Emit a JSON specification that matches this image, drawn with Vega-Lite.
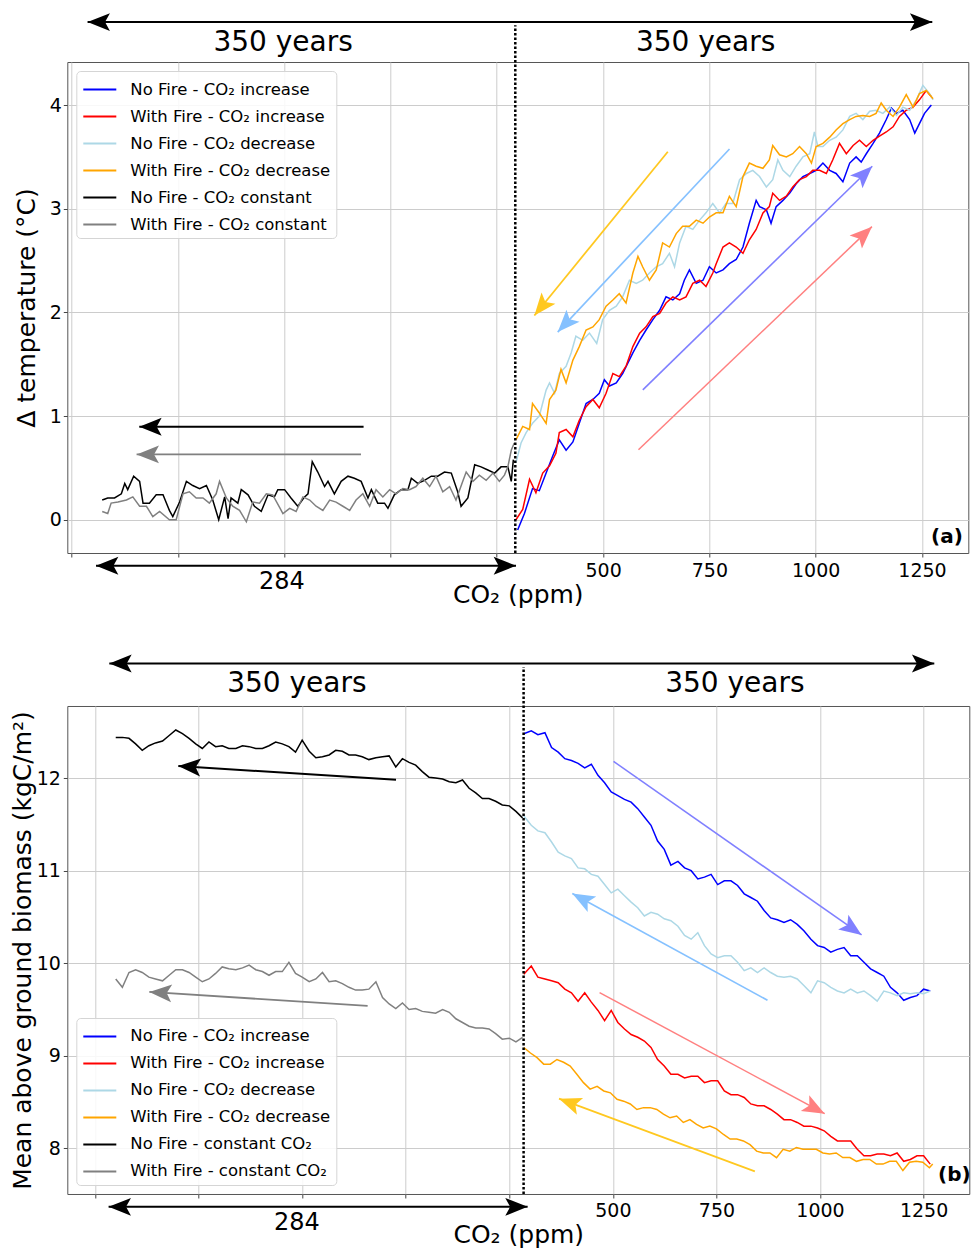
{
"$schema": "https://vega.github.io/schema/vega-lite/v6.json",
"padding": {"left": 9.3, "top": 12, "right": 0, "bottom": 0},
"config": {
 "font": "DejaVu Sans",
 "view": {"stroke": "#555555", "strokeWidth": 1},
 "axis": {"domain": false, "grid": true, "gridColor": "#cccccc", "gridWidth": 1, "tickColor": "#444444", "tickSize": 4, "labelFont": "DejaVu Sans", "labelFontSize": 19, "labelColor": "#000000", "titleFont": "DejaVu Sans", "titleFontSize": 25, "titleFontWeight": "normal", "titleColor": "#000000", "labelFlush": false, "labelOverlap": false, "format": "d"},
 "legend": {"labelFont": "DejaVu Sans"}
},
"datasets": {
 "a": [
 {"s":"b","x":299,"y":-0.1},{"s":"b","x":315,"y":0.06},{"s":"b","x":334,"y":0.3},{"s":"b","x":350,"y":0.28},{"s":"b","x":366,"y":0.45},{"s":"b","x":382,"y":0.62},{"s":"b","x":397,"y":0.77},{"s":"b","x":413,"y":0.67},{"s":"b","x":429,"y":0.75},{"s":"b","x":444,"y":0.93},{"s":"b","x":460,"y":1.12},{"s":"b","x":476,"y":1.16},{"s":"b","x":491,"y":1.22},{"s":"b","x":503,"y":1.35},{"s":"b","x":515,"y":1.29},{"s":"b","x":531,"y":1.32},{"s":"b","x":546,"y":1.41},{"s":"b","x":570,"y":1.61},{"s":"b","x":586,"y":1.73},{"s":"b","x":601,"y":1.83},{"s":"b","x":617,"y":1.93},{"s":"b","x":633,"y":2.02},{"s":"b","x":648,"y":2.15},{"s":"b","x":664,"y":2.12},{"s":"b","x":680,"y":2.18},{"s":"b","x":691,"y":2.31},{"s":"b","x":703,"y":2.41},{"s":"b","x":719,"y":2.28},{"s":"b","x":735,"y":2.31},{"s":"b","x":750,"y":2.44},{"s":"b","x":766,"y":2.38},{"s":"b","x":782,"y":2.41},{"s":"b","x":797,"y":2.47},{"s":"b","x":813,"y":2.51},{"s":"b","x":829,"y":2.63},{"s":"b","x":844,"y":2.86},{"s":"b","x":860,"y":3.08},{"s":"b","x":868,"y":3.02},{"s":"b","x":884,"y":2.99},{"s":"b","x":895,"y":2.86},{"s":"b","x":907,"y":3.02},{"s":"b","x":923,"y":3.08},{"s":"b","x":939,"y":3.15},{"s":"b","x":954,"y":3.24},{"s":"b","x":970,"y":3.31},{"s":"b","x":986,"y":3.34},{"s":"b","x":1001,"y":3.37},{"s":"b","x":1017,"y":3.44},{"s":"b","x":1033,"y":3.37},{"s":"b","x":1048,"y":3.34},{"s":"b","x":1064,"y":3.26},{"s":"b","x":1080,"y":3.44},{"s":"b","x":1095,"y":3.5},{"s":"b","x":1107,"y":3.45},{"s":"b","x":1119,"y":3.53},{"s":"b","x":1135,"y":3.63},{"s":"b","x":1150,"y":3.73},{"s":"b","x":1166,"y":3.86},{"s":"b","x":1178,"y":3.97},{"s":"b","x":1190,"y":3.92},{"s":"b","x":1205,"y":3.95},{"s":"b","x":1221,"y":3.86},{"s":"b","x":1233,"y":3.73},{"s":"b","x":1244,"y":3.82},{"s":"b","x":1256,"y":3.92},{"s":"b","x":1272,"y":4.0},
 {"s":"r","x":295,"y":0},{"s":"r","x":311,"y":0.1},{"s":"r","x":327,"y":0.39},{"s":"r","x":342,"y":0.26},{"s":"r","x":358,"y":0.45},{"s":"r","x":374,"y":0.52},{"s":"r","x":389,"y":0.64},{"s":"r","x":397,"y":0.84},{"s":"r","x":413,"y":0.87},{"s":"r","x":429,"y":0.8},{"s":"r","x":444,"y":0.96},{"s":"r","x":460,"y":1.09},{"s":"r","x":476,"y":1.16},{"s":"r","x":491,"y":1.08},{"s":"r","x":507,"y":1.22},{"s":"r","x":523,"y":1.41},{"s":"r","x":538,"y":1.38},{"s":"r","x":554,"y":1.48},{"s":"r","x":570,"y":1.67},{"s":"r","x":586,"y":1.8},{"s":"r","x":601,"y":1.86},{"s":"r","x":617,"y":1.96},{"s":"r","x":633,"y":1.99},{"s":"r","x":648,"y":2.09},{"s":"r","x":664,"y":2.15},{"s":"r","x":680,"y":2.12},{"s":"r","x":695,"y":2.15},{"s":"r","x":711,"y":2.28},{"s":"r","x":727,"y":2.31},{"s":"r","x":742,"y":2.25},{"s":"r","x":758,"y":2.38},{"s":"r","x":766,"y":2.47},{"s":"r","x":782,"y":2.63},{"s":"r","x":797,"y":2.67},{"s":"r","x":813,"y":2.63},{"s":"r","x":829,"y":2.57},{"s":"r","x":844,"y":2.7},{"s":"r","x":860,"y":2.8},{"s":"r","x":876,"y":2.96},{"s":"r","x":891,"y":3.02},{"s":"r","x":899,"y":3.15},{"s":"r","x":915,"y":3.08},{"s":"r","x":931,"y":3.12},{"s":"r","x":946,"y":3.21},{"s":"r","x":962,"y":3.28},{"s":"r","x":978,"y":3.31},{"s":"r","x":993,"y":3.37},{"s":"r","x":1009,"y":3.37},{"s":"r","x":1025,"y":3.34},{"s":"r","x":1040,"y":3.47},{"s":"r","x":1056,"y":3.63},{"s":"r","x":1072,"y":3.53},{"s":"r","x":1088,"y":3.61},{"s":"r","x":1103,"y":3.66},{"s":"r","x":1119,"y":3.6},{"s":"r","x":1135,"y":3.66},{"s":"r","x":1150,"y":3.7},{"s":"r","x":1166,"y":3.74},{"s":"r","x":1182,"y":3.79},{"s":"r","x":1197,"y":3.89},{"s":"r","x":1213,"y":3.95},{"s":"r","x":1229,"y":3.98},{"s":"r","x":1244,"y":4.05},{"s":"r","x":1260,"y":4.14},{"s":"r","x":1272,"y":4.08},
 {"s":"l","x":295,"y":0.55},{"s":"l","x":307,"y":0.74},{"s":"l","x":319,"y":0.84},{"s":"l","x":334,"y":0.93},{"s":"l","x":350,"y":1.0},{"s":"l","x":366,"y":1.25},{"s":"l","x":374,"y":1.32},{"s":"l","x":386,"y":1.22},{"s":"l","x":397,"y":1.41},{"s":"l","x":413,"y":1.48},{"s":"l","x":425,"y":1.61},{"s":"l","x":436,"y":1.77},{"s":"l","x":452,"y":1.73},{"s":"l","x":468,"y":1.8},{"s":"l","x":485,"y":1.7},{"s":"l","x":499,"y":1.93},{"s":"l","x":515,"y":2.02},{"s":"l","x":531,"y":2.06},{"s":"l","x":546,"y":2.15},{"s":"l","x":562,"y":2.31},{"s":"l","x":578,"y":2.28},{"s":"l","x":593,"y":2.31},{"s":"l","x":609,"y":2.38},{"s":"l","x":625,"y":2.44},{"s":"l","x":640,"y":2.47},{"s":"l","x":656,"y":2.57},{"s":"l","x":668,"y":2.44},{"s":"l","x":680,"y":2.67},{"s":"l","x":695,"y":2.83},{"s":"l","x":711,"y":2.8},{"s":"l","x":727,"y":2.89},{"s":"l","x":742,"y":2.96},{"s":"l","x":758,"y":3.05},{"s":"l","x":774,"y":2.96},{"s":"l","x":789,"y":3.05},{"s":"l","x":805,"y":3.05},{"s":"l","x":821,"y":3.28},{"s":"l","x":837,"y":3.34},{"s":"l","x":852,"y":3.37},{"s":"l","x":868,"y":3.31},{"s":"l","x":884,"y":3.21},{"s":"l","x":899,"y":3.28},{"s":"l","x":911,"y":3.47},{"s":"l","x":923,"y":3.37},{"s":"l","x":939,"y":3.31},{"s":"l","x":954,"y":3.41},{"s":"l","x":970,"y":3.5},{"s":"l","x":986,"y":3.53},{"s":"l","x":997,"y":3.74},{"s":"l","x":1005,"y":3.6},{"s":"l","x":1017,"y":3.6},{"s":"l","x":1033,"y":3.66},{"s":"l","x":1048,"y":3.69},{"s":"l","x":1064,"y":3.76},{"s":"l","x":1080,"y":3.89},{"s":"l","x":1095,"y":3.92},{"s":"l","x":1111,"y":3.86},{"s":"l","x":1127,"y":3.94},{"s":"l","x":1142,"y":3.95},{"s":"l","x":1158,"y":3.92},{"s":"l","x":1174,"y":3.98},{"s":"l","x":1190,"y":3.9},{"s":"l","x":1205,"y":3.98},{"s":"l","x":1221,"y":3.95},{"s":"l","x":1237,"y":4.05},{"s":"l","x":1252,"y":4.19},{"s":"l","x":1268,"y":4.11},{"s":"l","x":1276,"y":4.05},
 {"s":"o","x":295,"y":0.77},{"s":"o","x":311,"y":0.9},{"s":"o","x":327,"y":0.87},{"s":"o","x":334,"y":1.12},{"s":"o","x":350,"y":1.03},{"s":"o","x":366,"y":0.93},{"s":"o","x":374,"y":1.16},{"s":"o","x":389,"y":1.25},{"s":"o","x":401,"y":1.45},{"s":"o","x":413,"y":1.32},{"s":"o","x":429,"y":1.54},{"s":"o","x":444,"y":1.67},{"s":"o","x":460,"y":1.83},{"s":"o","x":476,"y":1.86},{"s":"o","x":491,"y":1.93},{"s":"o","x":507,"y":2.06},{"s":"o","x":523,"y":2.12},{"s":"o","x":538,"y":2.18},{"s":"o","x":554,"y":2.09},{"s":"o","x":570,"y":2.38},{"s":"o","x":582,"y":2.54},{"s":"o","x":593,"y":2.44},{"s":"o","x":609,"y":2.31},{"s":"o","x":625,"y":2.41},{"s":"o","x":640,"y":2.67},{"s":"o","x":656,"y":2.63},{"s":"o","x":672,"y":2.76},{"s":"o","x":687,"y":2.83},{"s":"o","x":703,"y":2.83},{"s":"o","x":719,"y":2.89},{"s":"o","x":735,"y":2.86},{"s":"o","x":750,"y":2.92},{"s":"o","x":766,"y":2.96},{"s":"o","x":782,"y":2.96},{"s":"o","x":797,"y":3.12},{"s":"o","x":813,"y":3.02},{"s":"o","x":829,"y":3.31},{"s":"o","x":844,"y":3.44},{"s":"o","x":860,"y":3.41},{"s":"o","x":876,"y":3.39},{"s":"o","x":891,"y":3.47},{"s":"o","x":899,"y":3.61},{"s":"o","x":915,"y":3.52},{"s":"o","x":931,"y":3.5},{"s":"o","x":946,"y":3.53},{"s":"o","x":962,"y":3.6},{"s":"o","x":978,"y":3.53},{"s":"o","x":990,"y":3.44},{"s":"o","x":1001,"y":3.6},{"s":"o","x":1017,"y":3.63},{"s":"o","x":1033,"y":3.69},{"s":"o","x":1048,"y":3.76},{"s":"o","x":1064,"y":3.82},{"s":"o","x":1080,"y":3.86},{"s":"o","x":1095,"y":3.89},{"s":"o","x":1111,"y":3.9},{"s":"o","x":1127,"y":3.89},{"s":"o","x":1142,"y":3.92},{"s":"o","x":1154,"y":4.02},{"s":"o","x":1166,"y":3.95},{"s":"o","x":1182,"y":3.89},{"s":"o","x":1197,"y":3.98},{"s":"o","x":1213,"y":4.1},{"s":"o","x":1229,"y":3.98},{"s":"o","x":1244,"y":4.11},{"s":"o","x":1260,"y":4.14},{"s":"o","x":1276,"y":4.06},
 {"s":"k","x":-678,"y":0.19},{"s":"k","x":-665,"y":0.21},{"s":"k","x":-649,"y":0.21},{"s":"k","x":-633,"y":0.25},{"s":"k","x":-625,"y":0.35},{"s":"k","x":-618,"y":0.29},{"s":"k","x":-604,"y":0.42},{"s":"k","x":-590,"y":0.37},{"s":"k","x":-582,"y":0.16},{"s":"k","x":-567,"y":0.16},{"s":"k","x":-551,"y":0.24},{"s":"k","x":-535,"y":0.24},{"s":"k","x":-520,"y":0.09},{"s":"k","x":-512,"y":0.03},{"s":"k","x":-496,"y":0.17},{"s":"k","x":-480,"y":0.37},{"s":"k","x":-465,"y":0.33},{"s":"k","x":-449,"y":0.3},{"s":"k","x":-433,"y":0.33},{"s":"k","x":-418,"y":0.19},{"s":"k","x":-404,"y":0.0},{"s":"k","x":-390,"y":0.22},{"s":"k","x":-382,"y":0.01},{"s":"k","x":-375,"y":0.21},{"s":"k","x":-359,"y":0.16},{"s":"k","x":-351,"y":0.29},{"s":"k","x":-335,"y":0.24},{"s":"k","x":-320,"y":0.13},{"s":"k","x":-304,"y":0.08},{"s":"k","x":-288,"y":0.24},{"s":"k","x":-273,"y":0.22},{"s":"k","x":-265,"y":0.29},{"s":"k","x":-249,"y":0.29},{"s":"k","x":-234,"y":0.21},{"s":"k","x":-218,"y":0.13},{"s":"k","x":-202,"y":0.22},{"s":"k","x":-194,"y":0.25},{"s":"k","x":-184,"y":0.56},{"s":"k","x":-171,"y":0.46},{"s":"k","x":-155,"y":0.32},{"s":"k","x":-147,"y":0.37},{"s":"k","x":-132,"y":0.25},{"s":"k","x":-116,"y":0.37},{"s":"k","x":-100,"y":0.42},{"s":"k","x":-85,"y":0.4},{"s":"k","x":-69,"y":0.37},{"s":"k","x":-53,"y":0.21},{"s":"k","x":-45,"y":0.29},{"s":"k","x":-30,"y":0.16},{"s":"k","x":-14,"y":0.16},{"s":"k","x":-6,"y":0.11},{"s":"k","x":9,"y":0.24},{"s":"k","x":25,"y":0.29},{"s":"k","x":41,"y":0.29},{"s":"k","x":49,"y":0.4},{"s":"k","x":64,"y":0.35},{"s":"k","x":80,"y":0.38},{"s":"k","x":96,"y":0.42},{"s":"k","x":111,"y":0.42},{"s":"k","x":127,"y":0.46},{"s":"k","x":143,"y":0.45},{"s":"k","x":158,"y":0.27},{"s":"k","x":166,"y":0.13},{"s":"k","x":182,"y":0.21},{"s":"k","x":198,"y":0.53},{"s":"k","x":213,"y":0.51},{"s":"k","x":229,"y":0.48},{"s":"k","x":245,"y":0.45},{"s":"k","x":260,"y":0.51},{"s":"k","x":276,"y":0.51},{"s":"k","x":284,"y":0.37},{"s":"k","x":289,"y":0.58},
 {"s":"g","x":-678,"y":0.08},{"s":"g","x":-665,"y":0.06},{"s":"g","x":-657,"y":0.16},{"s":"g","x":-641,"y":0.17},{"s":"g","x":-621,"y":0.19},{"s":"g","x":-606,"y":0.22},{"s":"g","x":-590,"y":0.13},{"s":"g","x":-574,"y":0.13},{"s":"g","x":-559,"y":0.03},{"s":"g","x":-543,"y":0.08},{"s":"g","x":-520,"y":0.0},{"s":"g","x":-504,"y":0.0},{"s":"g","x":-488,"y":0.25},{"s":"g","x":-473,"y":0.27},{"s":"g","x":-457,"y":0.21},{"s":"g","x":-441,"y":0.21},{"s":"g","x":-426,"y":0.16},{"s":"g","x":-410,"y":0.25},{"s":"g","x":-402,"y":0.37},{"s":"g","x":-386,"y":0.21},{"s":"g","x":-371,"y":0.13},{"s":"g","x":-355,"y":0.09},{"s":"g","x":-339,"y":-0.02},{"s":"g","x":-324,"y":0.17},{"s":"g","x":-308,"y":0.16},{"s":"g","x":-292,"y":0.25},{"s":"g","x":-277,"y":0.24},{"s":"g","x":-253,"y":0.06},{"s":"g","x":-237,"y":0.11},{"s":"g","x":-222,"y":0.08},{"s":"g","x":-206,"y":0.22},{"s":"g","x":-190,"y":0.19},{"s":"g","x":-175,"y":0.13},{"s":"g","x":-159,"y":0.09},{"s":"g","x":-143,"y":0.19},{"s":"g","x":-128,"y":0.17},{"s":"g","x":-112,"y":0.13},{"s":"g","x":-96,"y":0.09},{"s":"g","x":-81,"y":0.19},{"s":"g","x":-65,"y":0.25},{"s":"g","x":-49,"y":0.13},{"s":"g","x":-34,"y":0.29},{"s":"g","x":-18,"y":0.22},{"s":"g","x":-2,"y":0.29},{"s":"g","x":13,"y":0.25},{"s":"g","x":29,"y":0.3},{"s":"g","x":45,"y":0.29},{"s":"g","x":60,"y":0.32},{"s":"g","x":76,"y":0.4},{"s":"g","x":92,"y":0.32},{"s":"g","x":107,"y":0.42},{"s":"g","x":123,"y":0.27},{"s":"g","x":139,"y":0.32},{"s":"g","x":154,"y":0.19},{"s":"g","x":170,"y":0.37},{"s":"g","x":178,"y":0.46},{"s":"g","x":194,"y":0.37},{"s":"g","x":209,"y":0.43},{"s":"g","x":225,"y":0.38},{"s":"g","x":241,"y":0.45},{"s":"g","x":256,"y":0.37},{"s":"g","x":268,"y":0.43},{"s":"g","x":276,"y":0.51},{"s":"g","x":284,"y":0.67},{"s":"g","x":291,"y":0.74}
 ],
 "b": [
 {"s":"b","x":285,"y":12.48},{"s":"b","x":303,"y":12.51},{"s":"b","x":319,"y":12.47},{"s":"b","x":336,"y":12.49},{"s":"b","x":352,"y":12.33},{"s":"b","x":368,"y":12.28},{"s":"b","x":384,"y":12.21},{"s":"b","x":400,"y":12.19},{"s":"b","x":416,"y":12.16},{"s":"b","x":432,"y":12.11},{"s":"b","x":448,"y":12.15},{"s":"b","x":464,"y":12.03},{"s":"b","x":480,"y":11.95},{"s":"b","x":496,"y":11.85},{"s":"b","x":512,"y":11.81},{"s":"b","x":528,"y":11.77},{"s":"b","x":544,"y":11.74},{"s":"b","x":560,"y":11.67},{"s":"b","x":576,"y":11.58},{"s":"b","x":592,"y":11.49},{"s":"b","x":608,"y":11.32},{"s":"b","x":624,"y":11.23},{"s":"b","x":640,"y":11.06},{"s":"b","x":657,"y":11.1},{"s":"b","x":673,"y":11.03},{"s":"b","x":689,"y":11.0},{"s":"b","x":705,"y":10.91},{"s":"b","x":721,"y":10.93},{"s":"b","x":737,"y":10.96},{"s":"b","x":753,"y":10.85},{"s":"b","x":769,"y":10.89},{"s":"b","x":785,"y":10.89},{"s":"b","x":801,"y":10.84},{"s":"b","x":817,"y":10.75},{"s":"b","x":833,"y":10.71},{"s":"b","x":849,"y":10.67},{"s":"b","x":865,"y":10.57},{"s":"b","x":881,"y":10.49},{"s":"b","x":897,"y":10.47},{"s":"b","x":913,"y":10.44},{"s":"b","x":929,"y":10.47},{"s":"b","x":945,"y":10.42},{"s":"b","x":961,"y":10.35},{"s":"b","x":978,"y":10.26},{"s":"b","x":994,"y":10.19},{"s":"b","x":1010,"y":10.17},{"s":"b","x":1026,"y":10.12},{"s":"b","x":1042,"y":10.15},{"s":"b","x":1058,"y":10.17},{"s":"b","x":1074,"y":10.08},{"s":"b","x":1090,"y":10.08},{"s":"b","x":1106,"y":10.01},{"s":"b","x":1122,"y":9.94},{"s":"b","x":1138,"y":9.9},{"s":"b","x":1154,"y":9.86},{"s":"b","x":1170,"y":9.74},{"s":"b","x":1186,"y":9.68},{"s":"b","x":1202,"y":9.6},{"s":"b","x":1218,"y":9.63},{"s":"b","x":1234,"y":9.65},{"s":"b","x":1250,"y":9.72},{"s":"b","x":1266,"y":9.7},
 {"s":"r","x":285,"y":9.88},{"s":"r","x":303,"y":9.97},{"s":"r","x":319,"y":9.85},{"s":"r","x":336,"y":9.83},{"s":"r","x":352,"y":9.81},{"s":"r","x":368,"y":9.79},{"s":"r","x":384,"y":9.72},{"s":"r","x":400,"y":9.68},{"s":"r","x":416,"y":9.59},{"s":"r","x":432,"y":9.68},{"s":"r","x":448,"y":9.58},{"s":"r","x":464,"y":9.49},{"s":"r","x":480,"y":9.38},{"s":"r","x":496,"y":9.49},{"s":"r","x":512,"y":9.36},{"s":"r","x":528,"y":9.29},{"s":"r","x":544,"y":9.23},{"s":"r","x":560,"y":9.2},{"s":"r","x":576,"y":9.16},{"s":"r","x":592,"y":9.09},{"s":"r","x":608,"y":8.96},{"s":"r","x":624,"y":8.89},{"s":"r","x":640,"y":8.8},{"s":"r","x":657,"y":8.8},{"s":"r","x":673,"y":8.76},{"s":"r","x":689,"y":8.78},{"s":"r","x":705,"y":8.78},{"s":"r","x":721,"y":8.71},{"s":"r","x":737,"y":8.73},{"s":"r","x":753,"y":8.73},{"s":"r","x":769,"y":8.62},{"s":"r","x":785,"y":8.58},{"s":"r","x":801,"y":8.58},{"s":"r","x":817,"y":8.55},{"s":"r","x":833,"y":8.48},{"s":"r","x":849,"y":8.46},{"s":"r","x":865,"y":8.46},{"s":"r","x":881,"y":8.42},{"s":"r","x":897,"y":8.37},{"s":"r","x":913,"y":8.31},{"s":"r","x":929,"y":8.31},{"s":"r","x":945,"y":8.28},{"s":"r","x":961,"y":8.24},{"s":"r","x":978,"y":8.24},{"s":"r","x":994,"y":8.22},{"s":"r","x":1010,"y":8.19},{"s":"r","x":1026,"y":8.13},{"s":"r","x":1042,"y":8.08},{"s":"r","x":1058,"y":8.08},{"s":"r","x":1074,"y":8.08},{"s":"r","x":1090,"y":7.99},{"s":"r","x":1106,"y":7.92},{"s":"r","x":1122,"y":7.92},{"s":"r","x":1138,"y":7.94},{"s":"r","x":1154,"y":7.94},{"s":"r","x":1170,"y":7.92},{"s":"r","x":1186,"y":7.95},{"s":"r","x":1202,"y":7.86},{"s":"r","x":1218,"y":7.88},{"s":"r","x":1234,"y":7.92},{"s":"r","x":1250,"y":7.92},{"s":"r","x":1266,"y":7.83},
 {"s":"l","x":285,"y":11.59},{"s":"l","x":303,"y":11.49},{"s":"l","x":319,"y":11.43},{"s":"l","x":336,"y":11.41},{"s":"l","x":352,"y":11.31},{"s":"l","x":368,"y":11.2},{"s":"l","x":384,"y":11.16},{"s":"l","x":400,"y":11.13},{"s":"l","x":416,"y":11.03},{"s":"l","x":432,"y":11.02},{"s":"l","x":448,"y":10.96},{"s":"l","x":464,"y":10.94},{"s":"l","x":480,"y":10.85},{"s":"l","x":496,"y":10.76},{"s":"l","x":512,"y":10.8},{"s":"l","x":528,"y":10.73},{"s":"l","x":544,"y":10.66},{"s":"l","x":560,"y":10.6},{"s":"l","x":576,"y":10.51},{"s":"l","x":592,"y":10.55},{"s":"l","x":608,"y":10.53},{"s":"l","x":624,"y":10.48},{"s":"l","x":640,"y":10.46},{"s":"l","x":657,"y":10.4},{"s":"l","x":673,"y":10.3},{"s":"l","x":689,"y":10.26},{"s":"l","x":705,"y":10.33},{"s":"l","x":721,"y":10.19},{"s":"l","x":737,"y":10.1},{"s":"l","x":753,"y":10.06},{"s":"l","x":769,"y":10.08},{"s":"l","x":785,"y":10.08},{"s":"l","x":801,"y":10.01},{"s":"l","x":817,"y":9.92},{"s":"l","x":833,"y":9.95},{"s":"l","x":849,"y":9.9},{"s":"l","x":865,"y":9.95},{"s":"l","x":881,"y":9.9},{"s":"l","x":897,"y":9.86},{"s":"l","x":913,"y":9.85},{"s":"l","x":929,"y":9.86},{"s":"l","x":945,"y":9.83},{"s":"l","x":961,"y":9.76},{"s":"l","x":978,"y":9.68},{"s":"l","x":994,"y":9.81},{"s":"l","x":1010,"y":9.79},{"s":"l","x":1026,"y":9.74},{"s":"l","x":1042,"y":9.7},{"s":"l","x":1058,"y":9.68},{"s":"l","x":1074,"y":9.72},{"s":"l","x":1090,"y":9.68},{"s":"l","x":1106,"y":9.7},{"s":"l","x":1122,"y":9.65},{"s":"l","x":1138,"y":9.59},{"s":"l","x":1154,"y":9.7},{"s":"l","x":1170,"y":9.68},{"s":"l","x":1186,"y":9.65},{"s":"l","x":1202,"y":9.68},{"s":"l","x":1218,"y":9.67},{"s":"l","x":1234,"y":9.68},{"s":"l","x":1250,"y":9.67},{"s":"l","x":1266,"y":9.7},
 {"s":"o","x":285,"y":9.09},{"s":"o","x":301,"y":9.03},{"s":"o","x":317,"y":8.98},{"s":"o","x":333,"y":8.91},{"s":"o","x":349,"y":8.91},{"s":"o","x":365,"y":8.96},{"s":"o","x":381,"y":8.93},{"s":"o","x":397,"y":8.89},{"s":"o","x":413,"y":8.8},{"s":"o","x":429,"y":8.71},{"s":"o","x":445,"y":8.64},{"s":"o","x":462,"y":8.67},{"s":"o","x":478,"y":8.62},{"s":"o","x":494,"y":8.6},{"s":"o","x":510,"y":8.53},{"s":"o","x":526,"y":8.51},{"s":"o","x":542,"y":8.48},{"s":"o","x":558,"y":8.42},{"s":"o","x":574,"y":8.44},{"s":"o","x":590,"y":8.44},{"s":"o","x":606,"y":8.42},{"s":"o","x":622,"y":8.37},{"s":"o","x":638,"y":8.33},{"s":"o","x":654,"y":8.35},{"s":"o","x":670,"y":8.28},{"s":"o","x":686,"y":8.31},{"s":"o","x":702,"y":8.26},{"s":"o","x":718,"y":8.22},{"s":"o","x":734,"y":8.24},{"s":"o","x":750,"y":8.21},{"s":"o","x":767,"y":8.15},{"s":"o","x":783,"y":8.1},{"s":"o","x":799,"y":8.1},{"s":"o","x":815,"y":8.08},{"s":"o","x":831,"y":8.04},{"s":"o","x":847,"y":7.97},{"s":"o","x":863,"y":7.95},{"s":"o","x":879,"y":7.95},{"s":"o","x":895,"y":7.9},{"s":"o","x":911,"y":7.99},{"s":"o","x":927,"y":7.97},{"s":"o","x":943,"y":8.01},{"s":"o","x":959,"y":7.99},{"s":"o","x":975,"y":7.99},{"s":"o","x":991,"y":7.99},{"s":"o","x":1007,"y":7.95},{"s":"o","x":1023,"y":7.94},{"s":"o","x":1039,"y":7.95},{"s":"o","x":1055,"y":7.9},{"s":"o","x":1072,"y":7.9},{"s":"o","x":1088,"y":7.86},{"s":"o","x":1104,"y":7.88},{"s":"o","x":1120,"y":7.88},{"s":"o","x":1136,"y":7.83},{"s":"o","x":1152,"y":7.83},{"s":"o","x":1168,"y":7.86},{"s":"o","x":1184,"y":7.86},{"s":"o","x":1200,"y":7.76},{"s":"o","x":1216,"y":7.85},{"s":"o","x":1232,"y":7.86},{"s":"o","x":1248,"y":7.85},{"s":"o","x":1264,"y":7.79},{"s":"o","x":1272,"y":7.83},
 {"s":"k","x":-700,"y":12.44},{"s":"k","x":-684,"y":12.44},{"s":"k","x":-668,"y":12.43},{"s":"k","x":-652,"y":12.37},{"s":"k","x":-636,"y":12.3},{"s":"k","x":-620,"y":12.35},{"s":"k","x":-604,"y":12.38},{"s":"k","x":-587,"y":12.4},{"s":"k","x":-571,"y":12.46},{"s":"k","x":-555,"y":12.52},{"s":"k","x":-539,"y":12.48},{"s":"k","x":-523,"y":12.43},{"s":"k","x":-507,"y":12.37},{"s":"k","x":-491,"y":12.32},{"s":"k","x":-475,"y":12.39},{"s":"k","x":-459,"y":12.34},{"s":"k","x":-443,"y":12.35},{"s":"k","x":-427,"y":12.32},{"s":"k","x":-410,"y":12.32},{"s":"k","x":-394,"y":12.35},{"s":"k","x":-378,"y":12.34},{"s":"k","x":-362,"y":12.32},{"s":"k","x":-346,"y":12.32},{"s":"k","x":-330,"y":12.35},{"s":"k","x":-314,"y":12.39},{"s":"k","x":-298,"y":12.37},{"s":"k","x":-282,"y":12.34},{"s":"k","x":-266,"y":12.28},{"s":"k","x":-250,"y":12.41},{"s":"k","x":-233,"y":12.29},{"s":"k","x":-217,"y":12.22},{"s":"k","x":-201,"y":12.23},{"s":"k","x":-185,"y":12.25},{"s":"k","x":-169,"y":12.3},{"s":"k","x":-153,"y":12.29},{"s":"k","x":-137,"y":12.25},{"s":"k","x":-121,"y":12.25},{"s":"k","x":-105,"y":12.23},{"s":"k","x":-89,"y":12.2},{"s":"k","x":-72,"y":12.22},{"s":"k","x":-56,"y":12.23},{"s":"k","x":-40,"y":12.24},{"s":"k","x":-24,"y":12.12},{"s":"k","x":-8,"y":12.21},{"s":"k","x":8,"y":12.17},{"s":"k","x":24,"y":12.14},{"s":"k","x":40,"y":12.07},{"s":"k","x":56,"y":12.01},{"s":"k","x":72,"y":12.0},{"s":"k","x":89,"y":11.99},{"s":"k","x":105,"y":11.96},{"s":"k","x":121,"y":11.95},{"s":"k","x":137,"y":11.98},{"s":"k","x":153,"y":11.89},{"s":"k","x":169,"y":11.84},{"s":"k","x":185,"y":11.78},{"s":"k","x":201,"y":11.78},{"s":"k","x":217,"y":11.75},{"s":"k","x":233,"y":11.71},{"s":"k","x":250,"y":11.7},{"s":"k","x":266,"y":11.64},{"s":"k","x":282,"y":11.57},
 {"s":"g","x":-700,"y":9.83},{"s":"g","x":-684,"y":9.74},{"s":"g","x":-668,"y":9.9},{"s":"g","x":-652,"y":9.93},{"s":"g","x":-636,"y":9.9},{"s":"g","x":-620,"y":9.85},{"s":"g","x":-604,"y":9.83},{"s":"g","x":-587,"y":9.81},{"s":"g","x":-571,"y":9.87},{"s":"g","x":-555,"y":9.93},{"s":"g","x":-539,"y":9.93},{"s":"g","x":-523,"y":9.9},{"s":"g","x":-507,"y":9.85},{"s":"g","x":-491,"y":9.8},{"s":"g","x":-475,"y":9.83},{"s":"g","x":-459,"y":9.89},{"s":"g","x":-443,"y":9.96},{"s":"g","x":-427,"y":9.94},{"s":"g","x":-410,"y":9.93},{"s":"g","x":-394,"y":9.95},{"s":"g","x":-378,"y":9.98},{"s":"g","x":-362,"y":9.93},{"s":"g","x":-346,"y":9.91},{"s":"g","x":-330,"y":9.87},{"s":"g","x":-314,"y":9.91},{"s":"g","x":-298,"y":9.91},{"s":"g","x":-282,"y":10.01},{"s":"g","x":-266,"y":9.89},{"s":"g","x":-250,"y":9.85},{"s":"g","x":-233,"y":9.8},{"s":"g","x":-217,"y":9.83},{"s":"g","x":-201,"y":9.9},{"s":"g","x":-185,"y":9.8},{"s":"g","x":-169,"y":9.81},{"s":"g","x":-153,"y":9.78},{"s":"g","x":-137,"y":9.74},{"s":"g","x":-121,"y":9.71},{"s":"g","x":-105,"y":9.71},{"s":"g","x":-89,"y":9.72},{"s":"g","x":-72,"y":9.8},{"s":"g","x":-56,"y":9.63},{"s":"g","x":-40,"y":9.56},{"s":"g","x":-24,"y":9.51},{"s":"g","x":-8,"y":9.57},{"s":"g","x":8,"y":9.5},{"s":"g","x":24,"y":9.51},{"s":"g","x":40,"y":9.48},{"s":"g","x":56,"y":9.47},{"s":"g","x":72,"y":9.46},{"s":"g","x":89,"y":9.5},{"s":"g","x":105,"y":9.47},{"s":"g","x":121,"y":9.4},{"s":"g","x":137,"y":9.36},{"s":"g","x":153,"y":9.32},{"s":"g","x":169,"y":9.3},{"s":"g","x":185,"y":9.3},{"s":"g","x":201,"y":9.29},{"s":"g","x":217,"y":9.24},{"s":"g","x":233,"y":9.18},{"s":"g","x":250,"y":9.19},{"s":"g","x":266,"y":9.15},{"s":"g","x":282,"y":9.2}
 ],
 "arA": [
 {"id":"t","s":"span","x":-712.4,"y":4.8},{"id":"t","s":"span","x":1274.2,"y":4.8},
 {"id":"u","s":"span","x":-692.6,"y":-0.444},{"id":"u","s":"span","x":295.2,"y":-0.444},
 {"id":"k","s":"k","x":-63.3,"y":0.897},{"id":"k","s":"k","x":-590.8,"y":0.897},
 {"id":"g","s":"g","x":-69.4,"y":0.63},{"id":"g","s":"g","x":-597.1,"y":0.63},
 {"id":"o","s":"o","x":652.2,"y":3.55},{"id":"o","s":"o","x":338.4,"y":1.97},
 {"id":"l","s":"l","x":797.3,"y":3.576},{"id":"l","s":"l","x":393.3,"y":1.81},
 {"id":"b","s":"b","x":593.4,"y":1.253},{"id":"b","s":"b","x":1133,"y":3.41},
 {"id":"r","s":"r","x":583.2,"y":0.675},{"id":"r","s":"r","x":1132.3,"y":2.827}
 ],
 "hdA": [
 {"s":"span","x":-712.4,"y":4.8,"ang":180},{"s":"span","x":1274.2,"y":4.8,"ang":0},
 {"s":"span","x":-692.6,"y":-0.444,"ang":180},{"s":"span","x":295.2,"y":-0.444,"ang":0},
 {"s":"k","x":-590.8,"y":0.897,"ang":180},{"s":"g","x":-597.1,"y":0.63,"ang":180},
 {"s":"o","x":338.4,"y":1.97,"ang":129.1},{"s":"l","x":393.3,"y":1.81,"ang":133.1},
 {"s":"b","x":1133,"y":3.41,"ang":-44.3},{"s":"r","x":1132.3,"y":2.827,"ang":-43.7}
 ],
 "arB": [
 {"id":"t","s":"span","x":-715.5,"y":13.238},{"id":"t","s":"span","x":1275.8,"y":13.238},
 {"id":"u","s":"span","x":-717.2,"y":7.368},{"id":"u","s":"span","x":294.2,"y":7.368},
 {"id":"k","s":"k","x":-23.5,"y":11.983},{"id":"k","s":"k","x":-549,"y":12.13},
 {"id":"g","s":"g","x":-92,"y":9.54},{"id":"g","s":"g","x":-618.9,"y":9.69},
 {"id":"b","s":"b","x":501.6,"y":12.18},{"id":"b","s":"b","x":1100.3,"y":10.306},
 {"id":"l","s":"l","x":873.2,"y":9.6},{"id":"l","s":"l","x":402.1,"y":10.753},
 {"id":"r","s":"r","x":467.9,"y":9.683},{"id":"r","s":"r","x":1011.3,"y":8.375},
 {"id":"o","s":"o","x":842.7,"y":7.751},{"id":"o","s":"o","x":370,"y":8.537}
 ],
 "hdB": [
 {"s":"span","x":-715.5,"y":13.238,"ang":180},{"s":"span","x":1275.8,"y":13.238,"ang":0},
 {"s":"span","x":-717.2,"y":7.368,"ang":180},{"s":"span","x":294.2,"y":7.368,"ang":0},
 {"s":"k","x":-549,"y":12.13,"ang":-176.4},{"s":"g","x":-618.9,"y":9.69,"ang":-176.3},
 {"s":"b","x":1100.3,"y":10.306,"ang":34.9},{"s":"l","x":402.1,"y":10.753,"ang":-151.4},
 {"s":"r","x":1011.3,"y":8.375,"ang":28.2},{"s":"o","x":370,"y":8.537,"ang":-159.7}
 ]
},
"vconcat": [
 {
  "width": 901, "height": 491,
  "layer": [
   {"data": {"name": "a"}, "mark": {"type": "line", "strokeWidth": 1.5},
    "encoding": {
     "x": {"field": "x", "type": "quantitative", "title": "CO₂ (ppm)", "scale": {"domain": [-760.1, 1358.9], "nice": false, "zero": false}, "axis": {"values": [-750,-500,-250,0,250,500,750,1000,1250], "labelExpr": "datum.value >= 500 ? datum.label : ''", "labelPadding": 4, "titlePadding": 2}},
     "y": {"field": "y", "type": "quantitative", "title": "Δ temperature (°C)", "scale": {"domain": [-0.321, 4.415], "nice": false, "zero": false}, "axis": {"values": [0,1,2,3,4], "labelPadding": 2, "titlePadding": 9.9}},
     "color": {"field": "s", "type": "nominal", "scale": {"domain": ["b","r","l","o","k","g"], "range": ["#0000ff","#ff0000","#add8e6","#ffa500","#000000","#808080"]},
      "legend": {"title": null, "orient": "top-left", "offset": 9, "padding": 5, "labelFontSize": 16.5, "labelColor": "#000000", "labelLimit": 400, "symbolType": "M-1.32,0L1.32,0", "symbolSize": 625, "symbolStrokeWidth": 2, "symbolOffset": 5, "labelOffset": 17, "rowPadding": 5, "fillColor": "rgba(255,255,255,0.85)", "strokeColor": "#d5d5d5", "cornerRadius": 4,
       "labelExpr": "datum.label == 'b' ? 'No Fire - CO₂ increase' : datum.label == 'r' ? 'With Fire - CO₂ increase' : datum.label == 'l' ? 'No Fire - CO₂ decrease' : datum.label == 'o' ? 'With Fire - CO₂ decrease' : datum.label == 'k' ? 'No Fire - CO₂ constant' : 'With Fire - CO₂ constant'"}}
    }},
   {"data": {"values": [{"x": 293.5, "y": -0.321}, {"x": 293.5, "y": 4.77}]}, "mark": {"type": "line", "color": "#000000", "strokeWidth": 2.5, "strokeDash": [2.5, 2]},
    "encoding": {"x": {"field": "x", "type": "quantitative", "title": "CO₂ (ppm)"}, "y": {"field": "y", "type": "quantitative", "title": "Δ temperature (°C)"}}},
   {"data": {"name": "arA"}, "mark": {"type": "line"},
    "encoding": {"x": {"field": "x", "type": "quantitative", "title": "CO₂ (ppm)"}, "y": {"field": "y", "type": "quantitative", "title": "Δ temperature (°C)"}, "detail": {"field": "id"},
     "stroke": {"field": "s", "type": "nominal", "legend": null, "scale": {"domain": ["span","k","g","o","l","b","r"], "range": ["#000000","#000000","#808080","#ffc820","#85c1ff","#8080ff","#ff8080"]}},
     "strokeWidth": {"field": "s", "type": "nominal", "legend": null, "scale": {"domain": ["span","k","g","o","l","b","r"], "range": [2,1.5,1.5,1.3,1.3,1.3,1.3]}}}},
   {"data": {"name": "hdA"}, "mark": {"type": "point", "shape": "M0,0L-1,-0.4L-0.78,0L-1,0.4Z", "filled": true, "opacity": 1, "strokeWidth": 0},
    "encoding": {"x": {"field": "x", "type": "quantitative", "title": "CO₂ (ppm)"}, "y": {"field": "y", "type": "quantitative", "title": "Δ temperature (°C)"},
     "fill": {"field": "s", "type": "nominal", "legend": null, "scale": {"domain": ["span","k","g","o","l","b","r"], "range": ["#000000","#000000","#808080","#ffc820","#85c1ff","#8080ff","#ff8080"]}},
     "size": {"field": "s", "type": "nominal", "legend": null, "scale": {"domain": ["span","k","g","o","l","b","r"], "range": [2000,2000,2000,1156,1156,1156,1156]}},
     "angle": {"field": "ang", "type": "quantitative", "scale": null}}},
   {"data": {"values": [{"t": "350 years", "x": -252.6, "y": 4.597}, {"t": "350 years", "x": 741.1, "y": 4.597}]},
    "mark": {"type": "text", "align": "center", "baseline": "middle", "color": "#000000", "fontSize": 28},
    "encoding": {"x": {"field": "x", "type": "quantitative", "title": "CO₂ (ppm)"}, "y": {"field": "y", "type": "quantitative", "title": "Δ temperature (°C)"}, "text": {"field": "t"}}},
   {"data": {"values": [{"t": "284", "x": -255.6, "y": -0.6}]},
    "mark": {"type": "text", "align": "center", "baseline": "middle", "color": "#000000", "fontSize": 24},
    "encoding": {"x": {"field": "x", "type": "quantitative", "title": "CO₂ (ppm)"}, "y": {"field": "y", "type": "quantitative", "title": "Δ temperature (°C)"}, "text": {"field": "t"}}},
   {"data": {"values": [{"t": "(a)", "x": 1308.8, "y": -0.164}]},
    "mark": {"type": "text", "align": "center", "baseline": "middle", "color": "#000000", "fontWeight": "bold", "fontSize": 20},
    "encoding": {"x": {"field": "x", "type": "quantitative", "title": "CO₂ (ppm)"}, "y": {"field": "y", "type": "quantitative", "title": "Δ temperature (°C)"}, "text": {"field": "t"}}}
  ]
 },
 {
  "width": 902, "height": 488,
  "layer": [
   {"data": {"name": "b"}, "mark": {"type": "line", "strokeWidth": 1.5},
    "encoding": {
     "x": {"field": "x", "type": "quantitative", "title": "CO₂ (ppm)", "scale": {"domain": [-816.9, 1360.3], "nice": false, "zero": false}, "axis": {"values": [-750,-500,-250,0,250,500,750,1000,1250], "labelExpr": "datum.value >= 500 ? datum.label : ''", "labelPadding": 4, "titlePadding": 2}},
     "y": {"field": "y", "type": "quantitative", "title": "Mean above ground biomass (kgC/m²)", "scale": {"domain": [7.507, 12.779], "nice": false, "zero": false}, "axis": {"values": [8,9,10,11,12], "labelPadding": 3, "titlePadding": 0.5}},
     "color": {"field": "s", "type": "nominal", "scale": {"domain": ["b","r","l","o","k","g"], "range": ["#0000ff","#ff0000","#add8e6","#ffa500","#000000","#808080"]},
      "legend": {"title": null, "orient": "bottom-left", "offset": 9, "padding": 5, "labelFontSize": 16.5, "labelColor": "#000000", "labelLimit": 400, "symbolType": "M-1.32,0L1.32,0", "symbolSize": 625, "symbolStrokeWidth": 2, "symbolOffset": 5, "labelOffset": 17, "rowPadding": 5, "fillColor": "rgba(255,255,255,0.85)", "strokeColor": "#d5d5d5", "cornerRadius": 4,
       "labelExpr": "datum.label == 'b' ? 'No Fire - CO₂ increase' : datum.label == 'r' ? 'With Fire - CO₂ increase' : datum.label == 'l' ? 'No Fire - CO₂ decrease' : datum.label == 'o' ? 'With Fire - CO₂ decrease' : datum.label == 'k' ? 'No Fire - constant CO₂' : 'With Fire - constant CO₂'"}}
    }},
   {"data": {"values": [{"x": 284.5, "y": 7.507}, {"x": 284.5, "y": 13.2}]}, "mark": {"type": "line", "color": "#000000", "strokeWidth": 2.5, "strokeDash": [2.5, 2]},
    "encoding": {"x": {"field": "x", "type": "quantitative", "title": "CO₂ (ppm)"}, "y": {"field": "y", "type": "quantitative", "title": "Mean above ground biomass (kgC/m²)"}}},
   {"data": {"name": "arB"}, "mark": {"type": "line"},
    "encoding": {"x": {"field": "x", "type": "quantitative", "title": "CO₂ (ppm)"}, "y": {"field": "y", "type": "quantitative", "title": "Mean above ground biomass (kgC/m²)"}, "detail": {"field": "id"},
     "stroke": {"field": "s", "type": "nominal", "legend": null, "scale": {"domain": ["span","k","g","o","l","b","r"], "range": ["#000000","#000000","#808080","#ffc820","#85c1ff","#8080ff","#ff8080"]}},
     "strokeWidth": {"field": "s", "type": "nominal", "legend": null, "scale": {"domain": ["span","k","g","o","l","b","r"], "range": [2,1.5,1.5,1.3,1.3,1.3,1.3]}}}},
   {"data": {"name": "hdB"}, "mark": {"type": "point", "shape": "M0,0L-1,-0.4L-0.78,0L-1,0.4Z", "filled": true, "opacity": 1, "strokeWidth": 0},
    "encoding": {"x": {"field": "x", "type": "quantitative", "title": "CO₂ (ppm)"}, "y": {"field": "y", "type": "quantitative", "title": "Mean above ground biomass (kgC/m²)"},
     "fill": {"field": "s", "type": "nominal", "legend": null, "scale": {"domain": ["span","k","g","o","l","b","r"], "range": ["#000000","#000000","#808080","#ffc820","#85c1ff","#8080ff","#ff8080"]}},
     "size": {"field": "s", "type": "nominal", "legend": null, "scale": {"domain": ["span","k","g","o","l","b","r"], "range": [2000,2000,2000,1156,1156,1156,1156]}},
     "angle": {"field": "ang", "type": "quantitative", "scale": null}}},
   {"data": {"values": [{"t": "350 years", "x": -262.9, "y": 13.02}, {"t": "350 years", "x": 794.3, "y": 13.02}]},
    "mark": {"type": "text", "align": "center", "baseline": "middle", "color": "#000000", "fontSize": 28},
    "encoding": {"x": {"field": "x", "type": "quantitative", "title": "CO₂ (ppm)"}, "y": {"field": "y", "type": "quantitative", "title": "Mean above ground biomass (kgC/m²)"}, "text": {"field": "t"}}},
   {"data": {"values": [{"t": "284", "x": -262.9, "y": 7.195}]},
    "mark": {"type": "text", "align": "center", "baseline": "middle", "color": "#000000", "fontSize": 24},
    "encoding": {"x": {"field": "x", "type": "quantitative", "title": "CO₂ (ppm)"}, "y": {"field": "y", "type": "quantitative", "title": "Mean above ground biomass (kgC/m²)"}, "text": {"field": "t"}}},
   {"data": {"values": [{"t": "(b)", "x": 1324.1, "y": 7.717}]},
    "mark": {"type": "text", "align": "center", "baseline": "middle", "color": "#000000", "fontWeight": "bold", "fontSize": 20},
    "encoding": {"x": {"field": "x", "type": "quantitative", "title": "CO₂ (ppm)"}, "y": {"field": "y", "type": "quantitative", "title": "Mean above ground biomass (kgC/m²)"}, "text": {"field": "t"}}}
  ]
 }
],
"spacing": 46,
"resolve": {"scale": {"color": "independent", "stroke": "independent", "fill": "independent", "size": "independent", "strokeWidth": "independent"}, "legend": {"color": "independent"}}
}
